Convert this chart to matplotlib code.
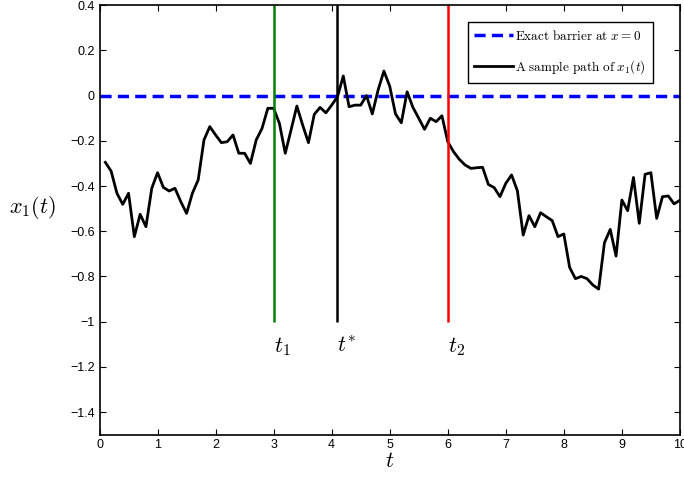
import numpy as np
import matplotlib
matplotlib.use("Agg")
import matplotlib.pyplot as plt

plt.rcParams["mathtext.fontset"] = "cm"
plt.rcParams["font.family"] = ["Liberation Sans", "DejaVu Sans"]

# chemin échantillon x1(t)
t = np.round(np.arange(1, 101) * 0.1, 1)
x1 = [-0.295, -0.334, -0.432, -0.481, -0.432, -0.624, -0.525, -0.58, -0.41, -0.341,
      -0.406, -0.422, -0.41, -0.469, -0.521, -0.432, -0.373, -0.196, -0.137, -0.174,
      -0.208, -0.204, -0.174, -0.255, -0.255, -0.30, -0.196, -0.145, -0.056, -0.056,
      -0.123, -0.255, -0.152, -0.046, -0.13, -0.208, -0.083, -0.052, -0.076, -0.042,
      -0.005, 0.087, -0.049, -0.042, -0.042, 0.0, -0.081, 0.025, 0.109, 0.042,
      -0.081, -0.12, 0.017, -0.052, -0.10, -0.149, -0.10, -0.115, -0.089, -0.204,
      -0.248, -0.282, -0.307, -0.322, -0.319, -0.317, -0.393, -0.407, -0.447, -0.388,
      -0.351, -0.421, -0.617, -0.531, -0.58, -0.518, -0.536, -0.553, -0.624, -0.612,
      -0.76, -0.81, -0.80, -0.81, -0.838, -0.856, -0.651, -0.592, -0.71, -0.462,
      -0.509, -0.362, -0.565, -0.348, -0.341, -0.543, -0.447, -0.444, -0.479, -0.463]

# instants marqués
t_marks = [3.0, 4.1, 6.0]
mark_colors = ["green", "black", "red"]
mark_labels = [r"$t_1$", r"$t^{*}$", r"$t_2$"]
mark_bottom = -1.0

xticks = list(range(0, 11))
yticks = [-1.4, -1.2, -1.0, -0.8, -0.6, -0.4, -0.2, 0.0, 0.2, 0.4]
ytick_labels = ["\u22121.4", "\u22121.2", "\u22121", "\u22120.8", "\u22120.6", "\u22120.4",
                "\u22120.2", "0", "0.2", "0.4"]

fig = plt.figure(figsize=(6.84, 4.79), dpi=100)
ax = fig.add_axes([0.1455, 0.0927, 0.8485, 0.8963])

ax.axhline(0, color="blue", linestyle="--", linewidth=2.5, dashes=(3.2, 1.8),
           label=r"$\mathrm{Exact\ barrier\ at\ }x=0$")
ax.plot(t, x1, color="black", linewidth=2, label=r"$\mathrm{A\ sample\ path\ of\ }x_1(t)$")

for tm, c, lab in zip(t_marks, mark_colors, mark_labels):
    ax.vlines(tm, mark_bottom, 0.4, color=c, linewidth=1.8)
    ax.text(tm, -1.11, lab, fontsize=16, ha="left", va="center")

ax.set_xlim(0, 10)
ax.set_ylim(-1.5, 0.4)
ax.set_xticks(xticks)
ax.set_yticks(yticks)
ax.set_yticklabels(ytick_labels)
ax.tick_params(direction="in", top=True, right=True, labelsize=9, length=4)
for s in ax.spines.values():
    s.set_linewidth(1.2)

ax.set_xlabel(r"$t$", fontsize=16, labelpad=0)
ax.set_ylabel(r"$x_1(t)$", fontsize=16, rotation=0, va="center")
ax.yaxis.set_label_coords(-0.115, 0.528)

leg = ax.legend(loc="upper right", bbox_to_anchor=(0.953, 0.961), borderaxespad=0,
                fancybox=False, edgecolor="black", framealpha=1, fontsize=9.5,
                handlelength=2.9, borderpad=0.5, labelspacing=1.2, handletextpad=0.2)
leg.get_frame().set_linewidth(1.0)

fig.savefig("out.png", dpi=100)
